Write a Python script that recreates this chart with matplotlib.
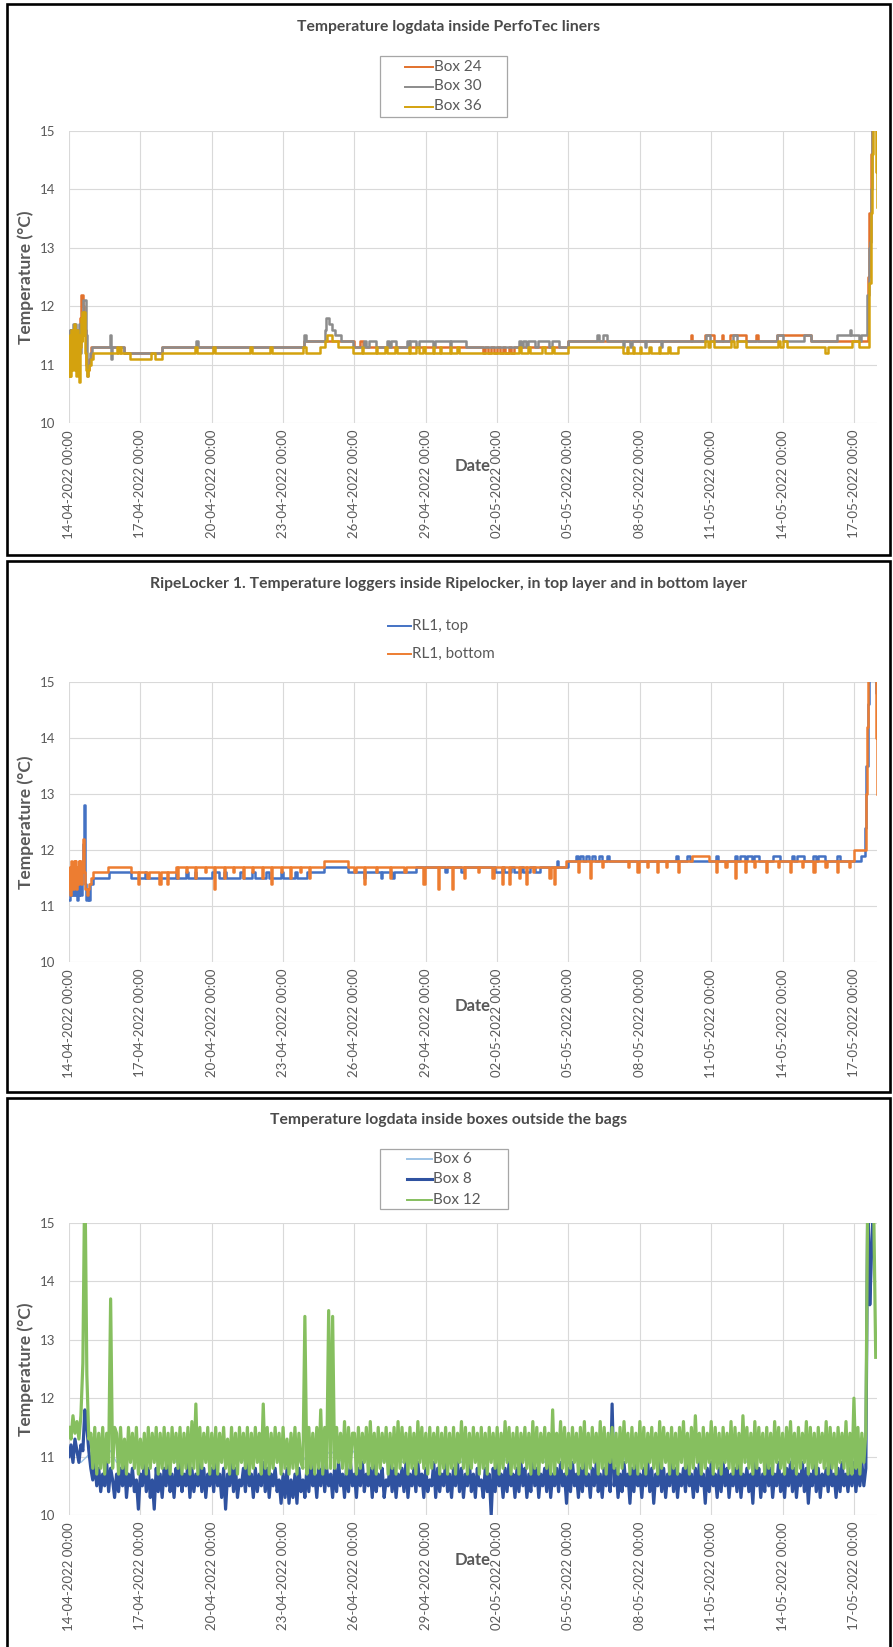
import numpy as np
import pandas as pd
import matplotlib
matplotlib.use("Agg")
import matplotlib.pyplot as plt
from matplotlib.lines import Line2D
from matplotlib.patches import Rectangle

plt.rcParams["font.family"] = ["Lato", "DejaVu Sans"]

W, H = 893, 1647
TEXT = "#595959"
GRID = "#D9D9D9"

START = pd.Timestamp("2022-04-14 00:00")
END_DAY = 33.97          # last logged reading, days after START
TICKS = pd.date_range("2022-04-14", "2022-05-17", freq="3D")

# ---------------------------------------------------------------------------
# PerfoTec liners: (days since start, temperature degC) at each change of value
BOX24 = [
    (0.00, 11.1), (0.03, 11.5), (0.06, 11.0), (0.10, 11.6), (0.14, 11.2), (0.18, 11.5),
    (0.22, 11.0), (0.26, 11.6), (0.30, 11.1), (0.34, 11.5), (0.40, 11.3), (0.46, 11.8),
    (0.52, 12.2), (0.58, 12.0), (0.64, 11.6), (0.70, 11.0), (0.76, 10.9), (0.84, 11.1),
    (0.92, 11.3), (2.30, 11.2), (3.90, 11.3), (9.90, 11.4), (12.00, 11.3), (12.25, 11.4),
    (12.35, 11.3),
    (17.40, 11.2), (17.50, 11.3), (17.60, 11.2), (17.75, 11.3), (17.85, 11.2), (18.00, 11.3),
    (18.10, 11.2), (18.25, 11.3), (18.35, 11.2), (18.50, 11.3), (18.60, 11.2), (18.70, 11.3),
    (21.00, 11.4), (26.15, 11.5), (26.20, 11.4), (26.75, 11.5), (27.10, 11.4), (27.45, 11.5),
    (27.50, 11.4), (27.80, 11.5), (28.45, 11.4), (28.90, 11.5), (28.95, 11.4), (29.75, 11.5),
    (31.20, 11.4), (33.52, 11.4), (33.58, 12.5), (33.64, 13.6), (33.70, 14.6), (33.76, 15.5),
    (33.97, 15.5),
]
BOX30 = [
    (0.00, 11.0), (0.03, 11.6), (0.06, 11.2), (0.10, 11.6), (0.14, 11.3), (0.18, 11.7),
    (0.22, 11.4), (0.26, 11.7), (0.30, 11.2), (0.34, 11.6), (0.38, 11.5), (0.42, 11.7),
    (0.46, 11.2), (0.50, 11.6), (0.56, 11.9), (0.60, 12.1), (0.66, 12.1), (0.70, 11.5),
    (0.74, 10.8), (0.80, 11.0), (0.88, 11.2), (0.96, 11.3), (1.72, 11.5), (1.76, 11.1),
    (1.80, 11.3), (2.30, 11.2), (3.90, 11.3), (5.35, 11.4), (5.42, 11.3), (9.90, 11.5),
    (9.96, 11.4), (10.75, 11.6), (10.82, 11.8), (10.95, 11.7), (11.05, 11.6), (11.20, 11.5),
    (11.45, 11.4), (11.95, 11.3), (12.40, 11.4), (12.50, 11.3), (12.60, 11.4), (12.90, 11.3),
    (13.35, 11.4), (13.45, 11.3), (13.55, 11.4), (13.75, 11.3), (14.20, 11.4), (14.30, 11.3),
    (14.35, 11.4), (14.60, 11.3), (14.70, 11.4), (15.30, 11.3), (15.40, 11.4), (16.00, 11.3),
    (16.05, 11.4), (16.70, 11.3), (18.90, 11.4), (19.00, 11.3), (19.10, 11.4), (19.20, 11.3),
    (19.30, 11.4), (19.60, 11.3), (19.70, 11.4), (20.20, 11.3), (20.30, 11.4), (20.60, 11.3),
    (21.00, 11.4), (22.20, 11.5), (22.30, 11.4), (22.45, 11.5), (22.60, 11.4), (23.30, 11.3),
    (23.35, 11.4), (23.60, 11.3), (23.65, 11.4), (24.20, 11.3), (24.25, 11.4), (24.90, 11.3),
    (24.95, 11.4), (26.78, 11.5), (26.95, 11.4), (27.90, 11.5), (28.10, 11.4), (29.78, 11.5),
    (30.00, 11.4), (30.90, 11.5), (31.20, 11.4), (32.30, 11.5), (32.82, 11.6), (32.88, 11.5),
    (33.20, 11.4), (33.30, 11.5), (33.50, 11.5), (33.56, 12.2), (33.62, 13.0), (33.68, 13.1),
    (33.72, 14.0), (33.78, 15.3), (33.97, 15.5),
]
BOX36 = [
    (0.00, 10.8), (0.03, 11.5), (0.06, 10.8), (0.09, 11.6), (0.12, 10.9), (0.15, 11.6),
    (0.18, 11.0), (0.21, 11.7), (0.24, 10.9), (0.27, 11.5), (0.30, 10.8), (0.33, 11.6),
    (0.36, 11.1), (0.40, 11.5), (0.44, 10.7), (0.47, 11.3), (0.50, 11.8), (0.53, 11.4),
    (0.56, 11.9), (0.60, 11.5), (0.64, 11.9), (0.68, 11.2), (0.72, 10.9), (0.76, 10.8),
    (0.80, 10.9), (0.86, 11.0), (0.92, 11.1), (1.00, 11.2), (2.00, 11.3), (2.05, 11.2),
    (2.15, 11.3), (2.20, 11.2), (2.55, 11.1), (3.45, 11.2), (3.62, 11.1), (3.92, 11.2),
    (5.30, 11.3), (5.40, 11.2), (6.05, 11.3), (6.12, 11.2), (7.60, 11.3), (7.70, 11.2),
    (8.45, 11.3), (8.55, 11.2), (9.85, 11.3), (9.95, 11.2), (10.55, 11.3), (10.75, 11.4),
    (10.85, 11.5), (11.05, 11.4), (11.30, 11.3), (11.95, 11.2), (12.30, 11.3), (12.35, 11.2),
    (12.90, 11.3), (12.95, 11.2), (13.30, 11.3), (13.35, 11.2), (13.70, 11.3), (13.80, 11.2),
    (14.30, 11.3), (14.35, 11.2), (14.60, 11.3), (14.70, 11.2), (14.90, 11.3), (14.95, 11.2),
    (15.30, 11.3), (15.35, 11.2), (15.60, 11.3), (15.65, 11.2), (16.00, 11.3), (16.05, 11.2),
    (16.30, 11.3), (16.40, 11.2), (18.90, 11.3), (19.00, 11.2), (19.30, 11.3), (19.40, 11.2),
    (19.90, 11.3), (20.00, 11.2), (20.30, 11.3), (20.40, 11.2), (21.00, 11.3), (23.30, 11.2),
    (23.45, 11.3), (23.50, 11.2), (23.70, 11.3), (23.75, 11.2), (24.00, 11.3), (24.05, 11.2),
    (24.40, 11.3), (24.45, 11.2), (24.80, 11.3), (24.85, 11.2), (25.20, 11.3), (25.25, 11.2),
    (25.60, 11.3), (26.75, 11.4), (26.85, 11.3), (26.95, 11.4), (27.10, 11.3), (27.85, 11.4),
    (27.95, 11.3), (28.10, 11.4), (28.45, 11.3), (29.80, 11.4), (29.90, 11.3), (30.00, 11.4),
    (30.20, 11.3), (31.80, 11.2), (31.90, 11.3), (32.90, 11.4), (33.20, 11.3), (33.54, 11.3),
    (33.62, 12.4), (33.70, 13.6), (33.76, 14.6), (33.80, 15.3), (33.86, 15.6), (33.90, 15.1),
    (33.94, 14.3), (33.97, 13.7),
]

# RipeLocker 1: top and bottom layer loggers
RL1_TOP = [
    (0.00, 11.1), (0.04, 11.3), (0.08, 11.2), (0.12, 11.3), (0.16, 11.2), (0.20, 11.4),
    (0.24, 11.2), (0.28, 11.3), (0.32, 11.1), (0.36, 11.4), (0.40, 11.2), (0.44, 11.4),
    (0.48, 11.2), (0.54, 11.6), (0.60, 12.1), (0.64, 12.8), (0.68, 11.4), (0.72, 11.1),
    (0.78, 11.3), (0.82, 11.1), (0.88, 11.4), (1.00, 11.5), (1.70, 11.6), (2.60, 11.5),
    (3.20, 11.6), (3.25, 11.5), (4.50, 11.6), (4.55, 11.5), (4.90, 11.6), (5.00, 11.5),
    (5.30, 11.6), (5.35, 11.5), (6.00, 11.6), (6.30, 11.5), (6.50, 11.6), (6.60, 11.5),
    (7.20, 11.6), (7.30, 11.5), (7.70, 11.6), (7.80, 11.5), (8.30, 11.6), (8.40, 11.5),
    (8.90, 11.6), (9.00, 11.5), (9.50, 11.6), (9.60, 11.5), (10.00, 11.6), (10.70, 11.7),
    (11.75, 11.6), (12.40, 11.5), (12.45, 11.6), (13.10, 11.5), (13.15, 11.6), (13.60, 11.5),
    (13.65, 11.6), (14.60, 11.7), (15.80, 11.6), (15.90, 11.7), (16.50, 11.6), (16.60, 11.7),
    (17.90, 11.6), (18.20, 11.7), (18.30, 11.6), (18.60, 11.7), (18.70, 11.6), (19.00, 11.7),
    (19.10, 11.6), (19.40, 11.7), (19.60, 11.6), (19.80, 11.7), (20.50, 11.8), (20.55, 11.7),
    (21.00, 11.8), (21.30, 11.9), (21.40, 11.8), (21.50, 11.9), (21.60, 11.8), (21.75, 11.9),
    (21.85, 11.8), (22.00, 11.9), (22.10, 11.8), (22.30, 11.9), (22.40, 11.8), (22.60, 11.9),
    (22.70, 11.8), (25.50, 11.9), (25.60, 11.8), (26.00, 11.9), (26.10, 11.8), (27.20, 11.9),
    (27.30, 11.8), (28.00, 11.9), (28.10, 11.8), (28.20, 11.9), (28.40, 11.8), (28.50, 11.9),
    (28.70, 11.8), (28.80, 11.9), (29.00, 11.8), (29.60, 11.9), (29.90, 11.8), (30.40, 11.9),
    (30.50, 11.8), (30.60, 11.9), (30.90, 11.8), (31.30, 11.9), (31.40, 11.8), (31.50, 11.9),
    (31.80, 11.8), (32.30, 11.9), (32.40, 11.8), (33.30, 11.9), (33.45, 12.4), (33.52, 13.5),
    (33.58, 14.6), (33.64, 15.5), (33.90, 15.3), (33.94, 14.8), (33.97, 14.3),
]
RL1_BOTTOM = [
    (0.00, 11.3), (0.03, 11.7), (0.06, 11.2), (0.09, 11.8), (0.12, 11.4), (0.15, 11.7),
    (0.18, 11.3), (0.21, 11.8), (0.24, 11.5), (0.27, 11.8), (0.30, 11.3), (0.33, 11.7),
    (0.36, 11.4), (0.40, 11.8), (0.44, 11.5), (0.48, 11.8), (0.52, 11.4), (0.56, 11.7),
    (0.60, 12.2), (0.64, 11.6), (0.68, 11.3), (0.74, 11.2), (0.80, 11.3), (0.86, 11.4),
    (0.92, 11.5), (1.00, 11.6), (1.65, 11.7), (2.60, 11.6), (2.90, 11.4), (2.95, 11.6),
    (3.30, 11.5), (3.35, 11.6), (3.80, 11.4), (3.85, 11.6), (4.10, 11.4), (4.15, 11.6),
    (4.50, 11.7), (4.55, 11.5), (4.60, 11.7), (4.90, 11.6), (4.95, 11.7), (5.30, 11.5),
    (5.35, 11.7), (5.70, 11.6), (5.75, 11.7), (6.10, 11.3), (6.15, 11.7), (6.50, 11.5),
    (6.55, 11.7), (6.90, 11.6), (6.95, 11.7), (7.30, 11.5), (7.35, 11.7), (7.70, 11.6),
    (7.75, 11.7), (8.10, 11.5), (8.15, 11.7), (8.50, 11.4), (8.55, 11.7), (8.90, 11.6),
    (8.95, 11.7), (9.30, 11.5), (9.35, 11.7), (9.70, 11.6), (9.75, 11.7), (10.10, 11.5),
    (10.15, 11.7), (10.70, 11.8), (11.75, 11.7), (12.00, 11.6), (12.05, 11.7), (12.40, 11.4),
    (12.45, 11.7), (12.90, 11.6), (12.95, 11.7), (13.50, 11.5), (13.55, 11.7), (14.10, 11.6),
    (14.15, 11.7), (14.90, 11.4), (14.95, 11.7), (15.50, 11.3), (15.55, 11.7), (16.10, 11.3),
    (16.15, 11.7), (16.60, 11.5), (16.65, 11.7), (17.20, 11.6), (17.25, 11.7), (17.80, 11.5),
    (17.85, 11.7), (18.20, 11.4), (18.25, 11.7), (18.50, 11.4), (18.55, 11.7), (18.90, 11.5),
    (18.95, 11.7), (19.20, 11.4), (19.25, 11.7), (19.50, 11.6), (19.55, 11.7), (20.20, 11.5),
    (20.25, 11.7), (20.40, 11.4), (20.45, 11.7), (20.90, 11.8), (21.40, 11.6), (21.45, 11.8),
    (21.90, 11.5), (21.95, 11.8), (22.40, 11.7), (22.45, 11.8), (23.50, 11.7), (23.55, 11.8),
    (23.90, 11.6), (23.95, 11.8), (24.30, 11.7), (24.35, 11.8), (24.70, 11.6), (24.75, 11.8),
    (25.10, 11.7), (25.15, 11.8), (25.60, 11.6), (25.65, 11.8), (26.20, 11.9), (26.90, 11.8),
    (27.20, 11.6), (27.25, 11.8), (27.60, 11.7), (27.65, 11.8), (28.00, 11.5), (28.05, 11.8),
    (28.40, 11.6), (28.45, 11.8), (28.80, 11.7), (28.85, 11.8), (29.30, 11.6), (29.35, 11.8),
    (29.80, 11.7), (29.85, 11.8), (30.30, 11.6), (30.35, 11.8), (30.80, 11.7), (30.85, 11.8),
    (31.30, 11.6), (31.35, 11.8), (31.80, 11.7), (31.85, 11.8), (32.30, 11.6), (32.35, 11.8),
    (32.80, 11.7), (32.85, 11.8), (33.00, 12.0), (33.48, 12.0), (33.52, 13.0), (33.56, 14.2),
    (33.60, 15.4), (33.90, 15.5), (33.93, 14.0), (33.97, 13.0),
]

# Boxes outside the bags: readings in tenths of a degree above 10 degC
BOX6_STEP_H = 6
BOX6_CODES = """
10 11 09 10 11 09 10 11  09 10 11 10 09 11 10 09
10 11 09 10 11 10 09 10  11 09 10 11 10 09 10 11
09 10 11 10 09 11 10 09  10 11 09 10 11 10 09 10
11 09 10 11 10 09 10 11  09 10 11 10 09 11 10 09
10 11 09 10 11 10 09 10  11 09 10 11 10 09 10 11
09 10 11 10 09 11 10 09  10 11 09 10 11 10 09 10
11 09 10 11 10 09 10 11  09 10 11 10 09 11 10 09
10 11 09 10 11 10 09 10  11 09 10 11 10 09 10 11
09 10 11 10 09 11
"""
BOX8_STEP_H = 2
BOX8_CODES = """
10 12 09 13 11 09 12 11 18 15 11 08 06 09 05 08 04 07 05 09 04 08 06 03
07 04 08 05 09 03 07 05 08 04 06 01 07 05 09 04 08 03 06 01 08 04 07 03
08 05 09 04 07 03 08 05 10 04 07 05 09 03 08 04 07 05 09 04 08 03 07 05
08 04 09 05 07 03 08 01 07 05 09 04 08 03 06 05 08 04 09 05 07 03 08 04
07 05 09 04 08 03 07 05 08 04 06 02 07 03 08 02 06 03 07 02 08 04 06 03
08 04 09 05 07 03 08 05 09 04 08 05 07 03 08 04 09 05 07 03 08 04 09 05
07 03 08 05 09 04 07 05 08 03 09 04 07 05 08 03 06 05 09 04 08 03 07 05
08 04 09 03 07 05 08 04 09 05 07 03 08 04 06 05 09 03 08 04 07 05 09 04
07 03 08 05 09 04 08 03 07 05 09 04 07 03 08 05 06 03 08 04 07 00 08 04
09 05 07 03 08 04 09 05 07 03 08 04 09 05 08 03 07 04 09 05 08 03 07 05
08 04 09 03 07 05 08 04 09 05 07 02 08 04 09 05 07 03 08 04 09 05 07 03
08 05 09 04 07 03 08 05 09 04 19 05 08 03 07 04 09 05 07 02 08 04 09 05
07 03 08 05 09 04 08 02 07 05 09 04 08 03 07 05 09 04 08 03 07 05 08 04
09 05 07 03 08 04 09 05 07 02 08 04 09 05 07 03 08 04 09 05 08 03 07 05
08 04 09 03 07 05 08 04 07 02 09 05 08 03 07 04 09 05 08 03 07 05 09 04
07 03 08 05 09 04 08 03 07 05 09 04 08 02 07 05 09 04 08 03 07 05 08 04
09 05 07 03 08 04 09 05 07 04 08 05 09 04 08 05 09 05 08 56 36 46 55 58
"""
BOX12_STEP_H = 2
BOX12_CODES = """
15 13 17 14 16 13 17 26 60 24 13 14 08 15 07 14 08 15 07 14 09 37 08 15
14 07 15 08 13 07 15 09 14 08 15 07 13 08 14 07 15 08 14 09 15 07 14 08
15 08 14 07 15 09 14 08 15 07 14 08 15 07 16 08 19 07 15 08 14 09 15 07
14 08 15 07 14 09 15 08 13 07 15 08 14 07 15 09 14 08 15 07 14 08 15 09
14 07 19 08 15 07 14 08 15 09 14 07 15 08 13 07 14 08 15 07 14 09 08 34
07 15 08 14 07 15 08 18 07 15 08 35 08 34 08 15 09 14 08 16 07 15 08 14
14 07 15 08 14 09 15 07 16 08 14 07 15 08 14 09 15 07 14 08 15 07 16 08
15 09 14 07 15 08 14 07 16 09 15 08 14 07 15 08 14 09 15 07 14 08 15 07
14 08 15 07 14 09 16 08 15 07 14 08 15 09 14 07 15 08 14 07 15 09 14 08
15 07 14 08 16 09 15 07 14 08 15 07 14 09 15 08 14 07 16 08 15 07 14 09
15 08 14 07 18 07 14 09 16 08 15 07 14 08 15 09 14 07 15 08 16 07 14 08
15 09 14 07 16 08 15 07 14 09 15 08 14 07 15 08 16 09 14 07 15 08 14 07
16 08 15 07 14 09 15 08 14 07 16 08 15 09 14 07 15 08 14 07 15 09 16 08
14 07 15 08 17 09 14 07 15 08 14 09 16 07 15 08 14 07 15 09 14 08 16 07
15 08 14 07 17 09 15 08 14 07 16 08 15 09 14 07 15 08 14 07 16 09 15 08
14 07 15 09 16 08 14 07 15 08 14 09 16 07 15 08 14 07 15 09 14 08 16 07
15 08 14 07 15 09 14 08 16 07 14 07 20 08 15 07 14 09 14 56 59 57 52 27
"""


def pairs_to_series(pairs):
    days, temps = np.array(pairs).T
    return START + pd.to_timedelta(days, unit="D"), temps


def codes_to_series(codes, step_h):
    temps = 10 + np.array(codes.split(), dtype=float) / 10
    times = START + pd.to_timedelta(np.arange(len(temps)) * step_h, unit="h")
    return times, temps


def fx(x):
    return x / W


def fy(y):
    return 1 - y / H


fig = plt.figure(figsize=(W / 100, H / 100), dpi=100, facecolor="white")


def panel_frame(top, bottom):
    fig.add_artist(Rectangle((fx(6.5), fy(bottom)), fx(889.5) - fx(6.5), fy(top) - fy(bottom),
                             transform=fig.transFigure, fill=False, edgecolor="black", lw=1.9))


def make_axes(top, bottom, title, title_y, date_y):
    ax = fig.add_axes([fx(69), fy(bottom), fx(877) - fx(69), fy(top) - fy(bottom)])
    ax.set_xlim(START, START + pd.Timedelta(days=END_DAY))
    ax.set_ylim(10, 15)
    ax.set_yticks(range(10, 16))
    ax.set_xticks(TICKS)
    ax.set_xticklabels([t.strftime("%d-%m-%Y %H:%M") for t in TICKS], rotation=90)
    ax.tick_params(length=0, colors=TEXT, labelsize=9.5)
    ax.tick_params(axis="x", pad=5)
    ax.tick_params(axis="y", pad=10)
    for s in ax.spines.values():
        s.set_visible(False)
    ax.grid(True, color=GRID, lw=0.8)
    ax.set_axisbelow(True)
    ax.set_ylabel("Temperature (°C)", fontsize=12.5, fontweight="bold", color=TEXT)
    ax.yaxis.set_label_coords((26 - 69) / (877 - 69), 0.5)
    ax.yaxis.label.set_va("center")
    ax.set_xlabel("Date", fontsize=12, fontweight="bold", color=TEXT)
    ax.xaxis.set_label_coords(0.5, (bottom - date_y) / (bottom - top))
    ax.xaxis.label.set_va("center")
    fig.text(fx(449), fy(title_y), title, ha="center", va="center",
             fontsize=11.3, fontweight="bold", color="#4a4a4a")
    return ax


def legend_rows(entries, x0, x1, rows, box=None):
    if box is not None:
        bx0, by0, bx1, by1 = box
        fig.add_artist(Rectangle((fx(bx0), fy(by1)), fx(bx1) - fx(bx0), fy(by0) - fy(by1),
                                 transform=fig.transFigure, fill=False,
                                 edgecolor="#A6A6A6", lw=0.9))
    for (label, color, lw), y in zip(entries, rows):
        fig.add_artist(Line2D([fx(x0), fx(x1)], [fy(y), fy(y)], color=color, lw=lw,
                              transform=fig.transFigure))
        fig.text(fx(x1 + 1), fy(y), label, ha="left", va="center",
                 fontsize=11, color=TEXT)


# --- Panel 1: PerfoTec liners ------------------------------------------------
panel_frame(4, 555)
ax1 = make_axes(131, 423, "Temperature logdata inside PerfoTec liners", 27, 466)
C24, C30, C36 = "#E2712C", "#8C8C8C", "#D4A20E"
for pairs, color in [(BOX24, C24), (BOX30, C30), (BOX36, C36)]:
    t, v = pairs_to_series(pairs)
    ax1.plot(t, v, color=color, lw=1.8, drawstyle="steps-post")
legend_rows([("Box 24", C24, 1.4), ("Box 30", C30, 1.4), ("Box 36", C36, 1.4)],
            405, 433, [67, 86.5, 106.5], box=(380, 56, 507, 117))

# --- Panel 2: RipeLocker 1 ---------------------------------------------------
panel_frame(561, 1092)
ax2 = make_axes(682, 962,
                "RipeLocker 1. Temperature loggers inside Ripelocker, in top layer and in bottom layer",
                584, 1006)
CTOP, CBOT = "#4472C4", "#ED7D31"
for pairs, color in [(RL1_TOP, CTOP), (RL1_BOTTOM, CBOT)]:
    t, v = pairs_to_series(pairs)
    ax2.plot(t, v, color=color, lw=1.8, drawstyle="steps-post")
legend_rows([("RL1, top", CTOP, 1.4), ("RL1, bottom", CBOT, 1.4)],
            388, 411, [626, 654])

# --- Panel 3: boxes outside the bags -----------------------------------------
panel_frame(1098, 1660)
ax3 = make_axes(1223, 1515, "Temperature logdata inside boxes outside the bags", 1120, 1560)
C6, C8, C12 = "#9DC3E6", "#2F52A0", "#86BF5F"
for codes, step, color, lw in [(BOX6_CODES, BOX6_STEP_H, C6, 1.0),
                               (BOX8_CODES, BOX8_STEP_H, C8, 2.3),
                               (BOX12_CODES, BOX12_STEP_H, C12, 2.3)]:
    t, v = codes_to_series(codes, step)
    ax3.plot(t, v, color=color, lw=lw)
legend_rows([("Box 6", C6, 1.4), ("Box 8", C8, 2.2), ("Box 12", C12, 1.4)],
            407, 432, [1159, 1179, 1199.5], box=(380, 1149, 508, 1209))

fig.savefig("out.png", dpi=100, facecolor="white")
